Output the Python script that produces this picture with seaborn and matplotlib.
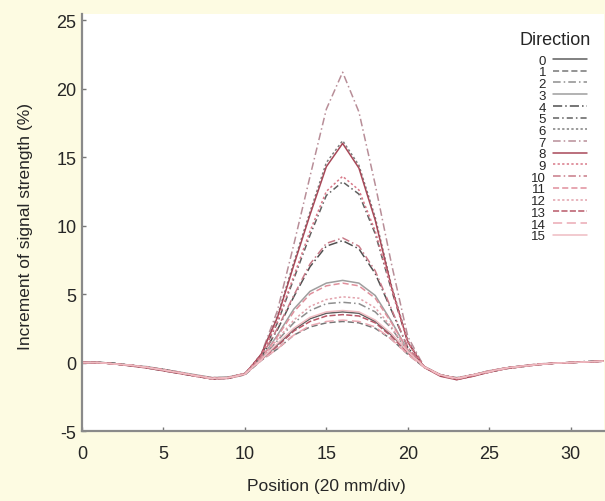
import numpy as np
import pandas as pd
import seaborn as sns
import matplotlib
matplotlib.use('Agg')
import matplotlib.pyplot as plt

# position along the scan (20 mm/div)
position = list(range(33))

# increment of signal strength (%) for each direction
dir0 = [0.0, 0.0, -0.1, -0.2, -0.35, -0.55, -0.75, -0.95, -1.15, -1.1, -0.85, 0.2, 1.3, 2.4, 3.2, 3.6, 3.7, 3.6, 3.0, 2.0, 0.8, -0.3, -0.9, -1.15, -0.9, -0.65, -0.4, -0.25, -0.15, -0.05, 0.0, 0.05, 0.1]
dir1 = [0.05, 0.0, -0.05, -0.2, -0.4, -0.6, -0.8, -1.0, -1.2, -1.15, -0.9, 0.15, 1.0, 2.0, 2.6, 2.9, 3.0, 2.9, 2.5, 1.7, 0.6, -0.35, -0.95, -1.2, -0.95, -0.7, -0.45, -0.3, -0.15, -0.05, 0.0, 0.05, 0.1]
dir2 = [0.0, 0.05, -0.1, -0.25, -0.35, -0.5, -0.7, -0.95, -1.1, -1.1, -0.8, 0.3, 1.6, 2.9, 3.8, 4.3, 4.4, 4.3, 3.7, 2.5, 0.8, -0.3, -0.9, -1.1, -0.9, -0.6, -0.4, -0.25, -0.1, -0.05, 0.0, 0.1, 0.1]
dir3 = [0.0, 0.0, -0.1, -0.2, -0.3, -0.5, -0.7, -0.9, -1.1, -1.05, -0.8, 0.3, 2.0, 3.9, 5.2, 5.8, 6.0, 5.8, 4.9, 3.0, 0.9, -0.3, -0.9, -1.15, -0.9, -0.6, -0.4, -0.25, -0.15, -0.05, 0.0, 0.05, 0.1]
dir4 = [0.0, 0.0, -0.1, -0.2, -0.35, -0.5, -0.75, -1.0, -1.15, -1.1, -0.8, 0.4, 2.4, 4.8, 7.0, 8.5, 8.9, 8.3, 6.5, 3.8, 1.1, -0.3, -0.9, -1.2, -0.95, -0.65, -0.4, -0.25, -0.15, -0.05, 0.0, 0.05, 0.1]
dir5 = [0.0, 0.0, -0.05, -0.2, -0.35, -0.55, -0.75, -0.95, -1.15, -1.1, -0.8, 0.5, 2.9, 6.1, 9.3, 12.2, 13.2, 12.3, 9.4, 5.3, 1.5, -0.3, -0.9, -1.15, -0.9, -0.65, -0.4, -0.25, -0.15, -0.05, 0.0, 0.05, 0.1]
dir6 = [0.0, 0.0, -0.1, -0.2, -0.35, -0.55, -0.75, -1.0, -1.2, -1.15, -0.85, 0.6, 3.4, 7.3, 11.0, 14.6, 16.2, 14.4, 10.6, 5.6, 1.6, -0.3, -0.95, -1.2, -0.95, -0.7, -0.45, -0.3, -0.15, -0.05, 0.0, 0.05, 0.1]
dir7 = [0.0, 0.0, -0.1, -0.2, -0.35, -0.55, -0.75, -1.0, -1.2, -1.15, -0.85, 0.6, 3.8, 8.6, 13.6, 18.5, 21.2, 18.3, 13.0, 7.2, 1.9, -0.3, -0.95, -1.25, -1.0, -0.7, -0.45, -0.3, -0.15, -0.05, 0.0, 0.05, 0.1]
dir8 = [0.0, 0.0, -0.1, -0.25, -0.4, -0.6, -0.8, -1.0, -1.2, -1.15, -0.85, 0.6, 3.3, 7.1, 10.8, 14.3, 16.0, 14.2, 10.4, 5.5, 1.5, -0.35, -1.0, -1.25, -1.0, -0.7, -0.45, -0.3, -0.15, -0.05, 0.0, 0.05, 0.1]
dir9 = [0.0, 0.0, -0.1, -0.2, -0.35, -0.5, -0.75, -0.95, -1.15, -1.1, -0.8, 0.5, 3.0, 6.3, 9.6, 12.5, 13.6, 12.6, 9.6, 5.4, 1.5, -0.3, -0.9, -1.2, -0.95, -0.65, -0.4, -0.25, -0.15, -0.05, 0.0, 0.05, 0.1]
dir10 = [0.0, 0.0, -0.1, -0.2, -0.35, -0.55, -0.75, -0.95, -1.15, -1.1, -0.8, 0.4, 2.5, 4.9, 7.2, 8.7, 9.1, 8.5, 6.7, 3.9, 1.1, -0.3, -0.9, -1.15, -0.9, -0.65, -0.4, -0.25, -0.15, -0.05, 0.0, 0.05, 0.1]
dir11 = [0.0, 0.0, -0.1, -0.2, -0.35, -0.55, -0.75, -0.95, -1.15, -1.1, -0.8, 0.3, 1.9, 3.7, 5.0, 5.6, 5.8, 5.6, 4.7, 2.9, 0.9, -0.3, -0.9, -1.15, -0.9, -0.6, -0.4, -0.25, -0.1, -0.05, 0.0, 0.05, 0.1]
dir12 = [0.0, 0.0, -0.1, -0.2, -0.35, -0.5, -0.7, -0.95, -1.1, -1.1, -0.8, 0.3, 1.7, 3.1, 4.1, 4.6, 4.8, 4.7, 4.0, 2.6, 0.8, -0.3, -0.9, -1.15, -0.9, -0.6, -0.4, -0.25, -0.1, -0.05, 0.0, 0.05, 0.1]
dir13 = [0.0, 0.0, -0.1, -0.2, -0.35, -0.55, -0.75, -0.95, -1.15, -1.1, -0.85, 0.2, 1.2, 2.3, 3.0, 3.4, 3.5, 3.4, 2.9, 1.9, 0.7, -0.3, -0.9, -1.15, -0.9, -0.65, -0.4, -0.25, -0.15, -0.05, 0.0, 0.05, 0.1]
dir14 = [0.0, 0.0, -0.1, -0.2, -0.35, -0.55, -0.75, -1.0, -1.2, -1.15, -0.85, 0.15, 1.0, 2.0, 2.7, 3.0, 3.1, 3.0, 2.6, 1.7, 0.6, -0.35, -0.95, -1.2, -0.95, -0.7, -0.45, -0.3, -0.15, -0.05, 0.0, 0.05, 0.1]
dir15 = [0.0, 0.0, -0.1, -0.2, -0.35, -0.55, -0.75, -0.95, -1.15, -1.1, -0.85, 0.2, 1.4, 2.5, 3.3, 3.7, 3.8, 3.7, 3.1, 2.1, 0.8, -0.3, -0.9, -1.15, -0.9, -0.65, -0.4, -0.25, -0.15, -0.05, 0.0, 0.05, 0.1]

directions = [str(d) for d in range(16)]
series = [dir0, dir1, dir2, dir3, dir4, dir5, dir6, dir7,
          dir8, dir9, dir10, dir11, dir12, dir13, dir14, dir15]

# line colours and dash patterns per direction
colors = ['#5e5e5e', '#767676', '#8e8e8e', '#9e9e9e', '#505050', '#606060', '#7e7e7e', '#b88e98',
          '#a84858', '#d87888', '#c87a88', '#e0909c', '#e2a2ac', '#b85868', '#ebaab4', '#efbcc2']
dashes = ['', (4, 2), (5, 2, 1, 2), '', (6, 2, 1, 2), (4, 2, 1, 2), (1.5, 1.5), (5, 2, 1, 2),
          '', (1.5, 1.5), (5, 2, 1, 2), (4, 2), (1.5, 1.5), (4, 1.5), (6, 3), '']

# long-form table for seaborn
df = pd.DataFrame({
    'Position': position * 16,
    'Increment': [v for s in series for v in s],
    'Direction': [d for d in directions for _ in position],
})

bg = '#fdfbe2'
sns.set_style('white')
plt.rcParams['font.family'] = ['Liberation Sans', 'DejaVu Sans']
plt.rcParams['axes.unicode_minus'] = False

fig = plt.figure(figsize=(6.05, 5.02), dpi=100, facecolor=bg)
ax = fig.add_axes([0.1355, 0.1394, 0.863, 0.8307])
ax.set_facecolor('white')

sns.lineplot(data=df, x='Position', y='Increment', hue='Direction', style='Direction',
             hue_order=directions, style_order=directions,
             palette=dict(zip(directions, colors)), dashes=dict(zip(directions, dashes)),
             linewidth=1.1, ax=ax)

ax.set_xlim(0, 32.05)
ax.set_ylim(-5, 25.45)
ax.set_xticks([0, 5, 10, 15, 20, 25, 30])
ax.set_yticks([-5, 0, 5, 10, 15, 20, 25])

for side in ['top', 'right']:
    ax.spines[side].set_visible(False)
for side in ['left', 'bottom']:
    ax.spines[side].set_color('#8a8a8a')
    ax.spines[side].set_linewidth(1.6)
ax.tick_params(direction='in', length=3, width=1, color='#777777',
               labelsize=13, left=True, bottom=True)
ax.tick_params(axis='x', pad=10)
ax.tick_params(axis='y', pad=4)

ax.set_xlabel('Position (20 mm/div)', fontsize=12.5)
ax.set_ylabel('Increment of signal strength (%)', fontsize=12.5)
ax.xaxis.set_label_coords(0.469, -0.113)
ax.yaxis.set_label_coords(-0.094, 0.494)

handles, labels = ax.get_legend_handles_labels()
leg = ax.legend(handles, labels, loc='upper right',
                bbox_to_anchor=(0.9674, 0.903), frameon=False, markerfirst=False,
                fontsize=9.5, labelspacing=-0.04, borderpad=0, borderaxespad=0,
                handlelength=2.6, handletextpad=0.5)
ax.text(0.907, 0.94, 'Direction', transform=ax.transAxes, ha='center', va='center',
        fontsize=13)

plt.savefig('out.png', dpi=100, facecolor=bg)
